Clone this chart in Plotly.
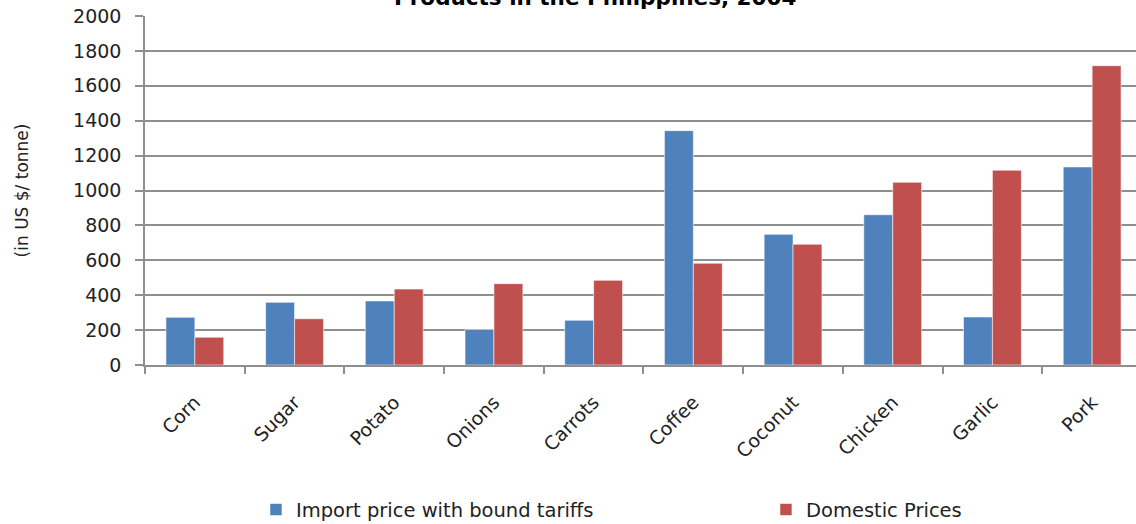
import plotly.graph_objects as go

categories = ["Corn", "Sugar", "Potato", "Onions", "Carrots", "Coffee",
              "Coconut", "Chicken", "Garlic", "Pork"]
import_prices = [273, 359, 367, 204, 256, 1343, 749, 861, 275, 1135]
domestic_prices = [159, 265, 435, 466, 485, 583, 692, 1047, 1116, 1715]
y_ticks = [0, 200, 400, 600, 800, 1000, 1200, 1400, 1600, 1800, 2000]

FONT = "DejaVu Sans"
GRID = "#8f8f8f"

fig = go.Figure()
fig.add_trace(go.Bar(
    x=categories, y=import_prices, name="Import price with bound tariffs",
    marker=dict(color="#4F81BD", line=dict(color="rgba(255,255,255,0.55)", width=1)),
    legend="legend",
))
fig.add_trace(go.Bar(
    x=categories, y=domestic_prices, name="Domestic Prices",
    marker=dict(color="#C0504D", line=dict(color="rgba(255,255,255,0.55)", width=1)),
    legend="legend2",
))

legend_font = dict(family=FONT, size=19.5, color="#222222")

fig.update_layout(
    width=1136, height=524,
    margin=dict(l=145, r=0, t=16, b=159, autoexpand=False),
    paper_bgcolor="white", plot_bgcolor="white",
    barmode="group", bargap=0.42, bargroupgap=0,
    font=dict(family=FONT, size=18, color="#222222"),
    showlegend=True,
    legend=dict(orientation="h", x=0.112, y=-0.415, xanchor="left", yanchor="middle",
                font=legend_font),
    legend2=dict(orientation="h", x=0.6266, y=-0.415, xanchor="left", yanchor="middle",
                 font=legend_font),
    annotations=[dict(text="<b>Products in the Philippines, 2004</b>",
                      xref="paper", yref="paper", x=0.454, y=1.0544,
                      xanchor="center", yanchor="middle", showarrow=False,
                      font=dict(family=FONT, size=21.5, color="#000000"))],
)

fig.update_xaxes(
    range=[-0.5, 9.44], tickangle=-45, tickson="boundaries", automargin=False,
    ticks="outside", ticklen=7, tickcolor=GRID, tickwidth=1.5,
    showline=True, linecolor=GRID, linewidth=1.5,
    showgrid=False, ticklabelstandoff=17,
    tickfont=dict(family=FONT, size=19, color="#222222"),
)
fig.update_yaxes(
    range=[0, 2000], tickvals=y_ticks, ticks="outside", ticklen=8, automargin=False,
    tickcolor=GRID, tickwidth=1.5,
    showline=True, linecolor=GRID, linewidth=1.5,
    showgrid=True, gridcolor=GRID, gridwidth=1.5, zeroline=False,
    ticklabelstandoff=10,
    tickfont=dict(family=FONT, size=19, color="#222222"),
    title=dict(text="(in US $/ tonne)", standoff=40,
               font=dict(family=FONT, size=17, color="#222222")),
)

fig.write_html("out.html")
